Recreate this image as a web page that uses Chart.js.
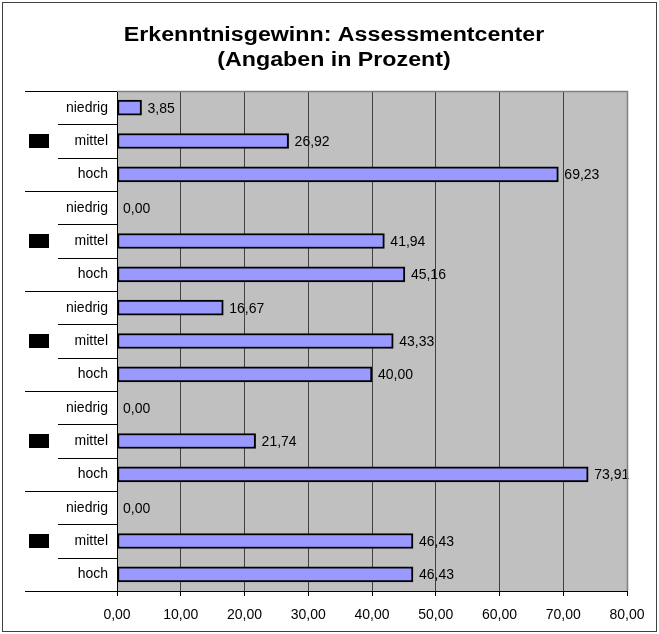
<!DOCTYPE html>
<html>
<head>
<meta charset="utf-8">
<script src="https://cdn.jsdelivr.net/npm/chart.js@4"></script>
<style>
  html, body { margin: 0; padding: 0; background: #fff; }
  #wrap { position: relative; width: 659px; height: 634px; }
</style>
</head>
<body>
<div id="wrap"><canvas id="c" width="659" height="634"></canvas></div>
<script>
// ---- data ----
const titleLines = ['Erkenntnisgewinn: Assessmentcenter', '(Angaben in Prozent)'];
const categories = ['niedrig', 'mittel', 'hoch',
                    'niedrig', 'mittel', 'hoch',
                    'niedrig', 'mittel', 'hoch',
                    'niedrig', 'mittel', 'hoch',
                    'niedrig', 'mittel', 'hoch'];
const values = [3.85, 26.92, 69.23,
                0.00, 41.94, 45.16,
                16.67, 43.33, 40.00,
                0.00, 21.74, 73.91,
                0.00, 46.43, 46.43];
const xTicksMin = 0, xTicksMax = 80, xTickStep = 10;
const groupSize = 3;

const fmt = v => v.toFixed(2).replace('.', ',');
const FONT = '"Liberation Sans", Arial, sans-serif';

const decor = {
  id: 'decor',
  beforeDraw(chart) {
    const { ctx, chartArea: a } = chart;
    ctx.save();
    ctx.fillStyle = '#fff';
    ctx.fillRect(0, 0, chart.width, chart.height);
    ctx.fillStyle = '#C0C0C0';
    ctx.fillRect(a.left, a.top, a.right - a.left, a.bottom - a.top);
    ctx.restore();
  },
  afterDatasetsDraw(chart) {
    const { ctx } = chart;
    const meta = chart.getDatasetMeta(0);
    ctx.save();
    ctx.font = '14px ' + FONT;
    ctx.fillStyle = '#000';
    ctx.textAlign = 'left';
    ctx.textBaseline = 'middle';
    meta.data.forEach((bar, i) => {
      ctx.fillText(fmt(values[i]), bar.x + 6, bar.y + 1);
    });
    ctx.restore();
  },
  afterDraw(chart) {
    const { ctx, chartArea: a, scales } = chart;
    const ys = scales.y;
    const n = categories.length;
    const rowH = (a.bottom - a.top) / n;
    ctx.save();
    // plot border top/right
    ctx.strokeStyle = '#808080';
    ctx.lineWidth = 1.5;
    ctx.beginPath();
    ctx.moveTo(a.left, a.top + 0.5);
    ctx.lineTo(a.right + 0.5, a.top + 0.5);
    ctx.lineTo(a.right + 0.5, a.bottom);
    ctx.stroke();
    // category separators in label area
    ctx.strokeStyle = '#000';
    ctx.lineWidth = 1;
    for (let i = 0; i <= n; i++) {
      const y = Math.round(ys.getPixelForValue(Math.min(i, n - 1)) + (i < n ? -rowH / 2 : rowH / 2)) + 0.5;
      const x0 = (i % groupSize === 0) ? 25 : 58;
      ctx.beginPath();
      ctx.moveTo(x0, y);
      ctx.lineTo(a.left, y);
      ctx.stroke();
    }
    // redacted group labels (black boxes)
    ctx.fillStyle = '#000';
    for (let g = 0; g < n / groupSize; g++) {
      const yc = ys.getPixelForValue(g * groupSize + 1);
      ctx.fillRect(29, Math.round(yc - 7), 20, 14);
    }
    // title
    ctx.fillStyle = '#000';
    ctx.textAlign = 'center';
    ctx.textBaseline = 'alphabetic';
    ctx.font = 'bold 19.5px ' + FONT;
    const baselines = [41, 66];
    titleLines.forEach((t, i) => {
      ctx.save();
      ctx.translate(334, baselines[i]);
      ctx.scale(1.19, 1);
      ctx.fillText(t, 0, 0);
      ctx.restore();
    });
    // outer frame
    ctx.strokeStyle = '#404040';
    ctx.lineWidth = 1;
    ctx.strokeRect(2.5, 2.5, 654, 629);
    ctx.restore();
  }
};

new Chart(document.getElementById('c'), {
  type: 'bar',
  data: {
    labels: categories,
    datasets: [{
      data: values,
      backgroundColor: '#9999FF',
      borderColor: '#000',
      borderWidth: 2,
      borderSkipped: false,
      barThickness: 15
    }]
  },
  options: {
    indexAxis: 'y',
    responsive: false,
    animation: false,
    devicePixelRatio: 1,
    layout: { padding: { left: 0, right: 32, top: 91, bottom: 0 } },
    plugins: {
      legend: { display: false },
      title: { display: false },
      tooltip: { enabled: false }
    },
    scales: {
      x: {
        type: 'linear',
        min: xTicksMin,
        max: xTicksMax,
        ticks: {
          stepSize: xTickStep,
          callback: v => fmt(v),
          color: '#000',
          font: { size: 14, family: FONT },
          padding: 11
        },
        grid: {
          color: '#404040',
          lineWidth: 1,
          tickLength: 5,
          tickColor: '#000'
        },
        border: { color: '#000', width: 1 },
        afterFit: s => { s.height = 43; }
      },
      y: {
        type: 'category',
        offset: true,
        ticks: {
          color: '#000',
          font: { size: 14, family: FONT },
          padding: 9,
          autoSkip: false
        },
        grid: { display: false, drawTicks: false },
        border: { color: '#000', width: 1 },
        afterFit: s => { s.width = 117; }
      }
    }
  },
  plugins: [decor]
});
</script>
</body>
</html>
